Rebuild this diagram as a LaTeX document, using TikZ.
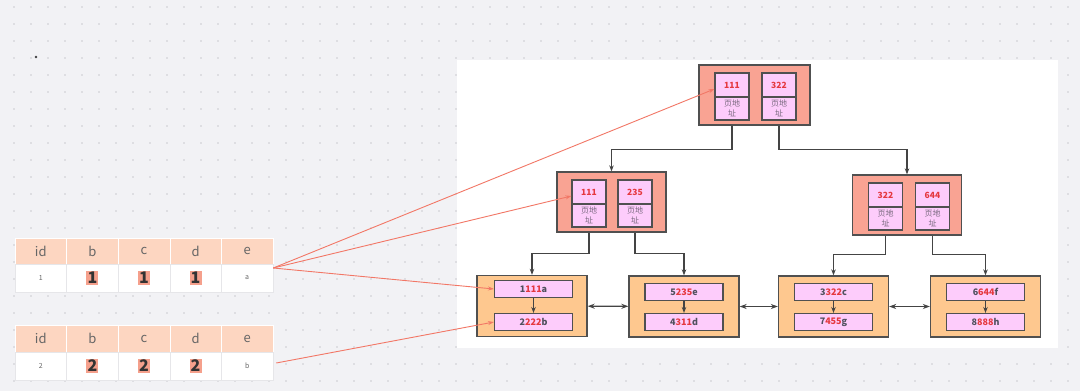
\documentclass[tikz,border=0pt]{standalone}
\usepackage{fontspec}
\setmainfont{Noto Sans CJK SC}
\usetikzlibrary{positioning, arrows.meta}

\definecolor{canvasgray}{HTML}{F2F2F5}
\definecolor{dotgray}{HTML}{CBCBD0}
\definecolor{boxline}{HTML}{505050}
\definecolor{pagered}{HTML}{F9A393}
\definecolor{keypink}{HTML}{FDCCFB}
\definecolor{leaforange}{HTML}{FEC88F}
\definecolor{keyred}{HTML}{E5383F}
\definecolor{addrgray}{HTML}{7A6A80}
\definecolor{rowgray}{HTML}{50505E}
\definecolor{linegray}{HTML}{444444}
\definecolor{ptrred}{HTML}{F27766}
\definecolor{headorange}{HTML}{FDD6C1}
\definecolor{headtext}{HTML}{666666}
\definecolor{cellline}{HTML}{E6E6E9}
\definecolor{hlred}{HTML}{F5A08C}

\newcommand\lkey[3]{#1\textcolor{keyred}{#2}#3}
\newcommand\hlval[1]{{\setlength{\fboxsep}{1.2pt}\colorbox{hlred}{\fontsize{16}{16}\selectfont\bfseries\color{black!80}#1}}}

\begin{document}
\begin{tikzpicture}[x=1pt, y=-1pt,
    pagebox/.style={rectangle, draw=boxline, line width=1.3pt, fill=pagered, minimum width=110pt, minimum height=60pt},
    keybox/.style={rectangle, draw=boxline, line width=1.1pt, fill=keypink, minimum width=34pt, minimum height=24pt, inner sep=0pt, font=\fontsize{8.5}{9}\selectfont\bfseries, text=keyred},
    addrbox/.style={rectangle, draw=boxline, line width=1.1pt, fill=keypink, minimum width=34pt, minimum height=23pt, inner sep=0pt, align=center, font=\fontsize{8}{9.5}\selectfont, text=addrgray},
    leafbox/.style={rectangle, draw=boxline, line width=1.3pt, fill=leaforange, minimum width=110pt, minimum height=61pt},
    rowbox/.style={rectangle, draw=boxline, line width=1.1pt, fill=keypink, minimum width=78pt, minimum height=17pt, inner sep=0pt, font=\fontsize{9}{9}\selectfont\bfseries, text=rowgray},
    treeline/.style={draw=linegray, line width=1.1pt, -{Stealth[length=6pt, width=4.5pt]}},
    linkline/.style={draw=linegray, line width=1.2pt, {Stealth[length=7pt, width=5pt]}-{Stealth[length=7pt, width=5pt]}},
    ptrline/.style={draw=ptrred, line width=0.9pt, -{Stealth[length=6pt, width=4pt]}},
    headcell/.style={rectangle, fill=headorange, draw=white, line width=0.6pt, minimum width=51.6pt, inner sep=0pt, font=\fontsize{13}{14}\selectfont, text=headtext},
    datacell/.style={rectangle, fill=white, draw=cellline, line width=0.5pt, minimum width=51.6pt, inner sep=0pt, font=\fontsize{7}{8}\selectfont, text=headtext}
]
    \useasboundingbox (0,0) rectangle (1080,391);

    % Canvas
    \fill[canvasgray] (0,0) rectangle (1080,391);
    \foreach \gx in {14,31,...,1075}
        \foreach \gy in {7,24,...,390}
            \fill[dotgray] (\gx,\gy) circle (0.8pt);
    \fill[black!75] (36,57) circle (1.4pt);
    \fill[white] (457,60) rectangle (1058,348);

    % Root page
    \node[pagebox, minimum width=111pt] (root) at (754.5,95) {};
    \node[keybox] (rootk1) at (732,85) {111};
    \node[addrbox] (roota1) at (732,108.5) {页地\\址};
    \node[keybox] (rootk2) at (779,85) {322};
    \node[addrbox] (roota2) at (779,108.5) {页地\\址};

    % Inner pages
    \node[pagebox, minimum width=109pt] (midL) at (611.5,202) {};
    \node[keybox] (midLk1) at (589,192) {111};
    \node[addrbox] (midLa1) at (589,215.5) {页地\\址};
    \node[keybox] (midLk2) at (635,192) {235};
    \node[addrbox] (midLa2) at (635,215.5) {页地\\址};

    \node[pagebox, minimum width=109pt] (midR) at (907,205) {};
    \node[keybox] (midRk1) at (885.5,195) {322};
    \node[addrbox] (midRa1) at (885.5,218.5) {页地\\址};
    \node[keybox] (midRk2) at (932.5,195) {644};
    \node[addrbox] (midRa2) at (932.5,218.5) {页地\\址};

    % Leaf pages
    \node[leafbox] (leafA) at (532,306) {};
    \node[rowbox] (leafA1) at (533.5,289) {\lkey{1}{111}{a}};
    \node[rowbox] (leafA2) at (533.5,322) {\lkey{2}{222}{b}};
    \node[leafbox] (leafB) at (684,306.5) {};
    \node[rowbox] (leafB1) at (684,292) {\lkey{5}{235}{e}};
    \node[rowbox] (leafB2) at (684,322) {\lkey{4}{311}{d}};
    \node[leafbox] (leafC) at (833.5,306.5) {};
    \node[rowbox] (leafC1) at (833.5,292) {\lkey{3}{322}{c}};
    \node[rowbox] (leafC2) at (833.5,322) {\lkey{7}{455}{g}};
    \node[leafbox] (leafD) at (985.5,306.5) {};
    \node[rowbox] (leafD1) at (985.5,292) {\lkey{6}{644}{f}};
    \node[rowbox] (leafD2) at (985.5,322) {\lkey{8}{888}{h}};

    % Tables
    \foreach \lbl [count=\i] in {id,b,c,d,e} {
        \node[headcell, minimum height=26pt] (ta-h\i) at (15+51.6*\i-25.8,251) {\lbl};
        \node[headcell, minimum height=27pt] (tb-h\i) at (15+51.6*\i-25.8,338.5) {\lbl};
    }
    \node[datacell, minimum height=28pt] (ta-r1) at (40.8,278) {1};
    \node[datacell, minimum height=28pt] (ta-r2) at (92.4,278) {\hlval{1}};
    \node[datacell, minimum height=28pt] (ta-r3) at (144,278) {\hlval{1}};
    \node[datacell, minimum height=28pt] (ta-r4) at (195.6,278) {\hlval{1}};
    \node[datacell, minimum height=28pt] (ta-r5) at (247.2,278) {a};
    \node[datacell, minimum height=28pt] (tb-r1) at (40.8,366) {2};
    \node[datacell, minimum height=28pt] (tb-r2) at (92.4,366) {\hlval{2}};
    \node[datacell, minimum height=28pt] (tb-r3) at (144,366) {\hlval{2}};
    \node[datacell, minimum height=28pt] (tb-r4) at (195.6,366) {\hlval{2}};
    \node[datacell, minimum height=28pt] (tb-r5) at (247.2,366) {b};
    \coordinate (ta-out) at ([yshift=10pt]ta-r5.east);
    \coordinate (tb-out) at ([xshift=3pt, yshift=3pt]tb-r5.east);

    % Tree connections
    \draw[treeline] (roota1.south |- root.south) -- ++(0,24) -| (midL.north);
    \draw[treeline] (roota2.south |- root.south) -- ++(0,24) -| (midR.north);
    \draw[treeline] (midLa1.south |- midL.south) -- ++(0,21) -| (leafA.north);
    \draw[treeline] (midLa2.south |- midL.south) -- ++(0,21) -| (leafB.north);
    \draw[treeline] (midRa1.south |- midR.south) -- ++(0,19) -| (leafC.north);
    \draw[treeline] (midRa2.south |- midR.south) -- ++(0,19) -| (leafD.north);

    % Leaf links
    \draw[treeline] (leafA1) -- (leafA2);
    \draw[treeline] (leafB1) -- (leafB2);
    \draw[treeline] (leafC1) -- (leafC2);
    \draw[treeline] (leafD1) -- (leafD2);
    \draw[linkline] (leafA) -- (leafB);
    \draw[linkline] (leafB) -- (leafC);
    \draw[linkline] (leafC) -- (leafD);

    % Row pointers
    \draw[ptrline] (ta-out) -- ([yshift=-4pt]rootk1.west);
    \draw[ptrline] (ta-out) -- ([yshift=-4pt]midLk1.west);
    \draw[ptrline] (ta-out) -- (leafA1.west);
    \draw[ptrline] (tb-out) -- (leafA2.west);
\end{tikzpicture}
\end{document}
